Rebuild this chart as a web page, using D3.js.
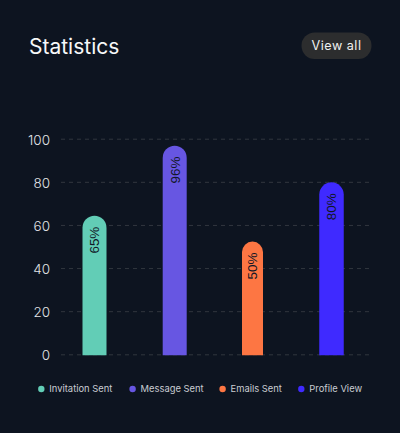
<!DOCTYPE html>
<html><head><meta charset="utf-8">
<script src="https://cdn.jsdelivr.net/npm/d3@7"></script>
<style>
html,body{margin:0;padding:0;background:#0d1420;width:400px;height:433px;overflow:hidden}
text{font-family:Inter,"Noto Sans",sans-serif}
</style></head><body><svg id="c" width="400" height="433"></svg>
<script>
const categories=["Invitation Sent","Message Sent","Emails Sent","Profile View"];
const values=[64.5,97,52.5,80];
const percentLabels=["65%","96%","50%","80%"];
const colors=["#62cdb6","#6756e2","#fd7643","#3f2aff"];
const yTicks=[0,20,40,60,80,100];
const title="Statistics", buttonLabel="View all";

const svg=d3.select("#c");
const barW=[24,24,21,24.5], centerShift=[0,1.2,0,0];
const x=d3.scaleBand().domain(categories).range([55,371]).paddingInner(0).paddingOuter(0);
const y=d3.scaleLinear().domain([0,100]).range([354.8,139.2]);

svg.append("text").attr("x",29).attr("y",54).attr("fill","#f7f8f9").attr("font-size",21).attr("font-weight",400).text(title);
svg.append("rect").attr("x",301.5).attr("y",32.5).attr("width",70).attr("height",26.5).attr("rx",13.2).attr("fill","#2c2d2e");
svg.append("text").attr("x",336.5).attr("y",50.3).attr("text-anchor","middle").attr("fill","#f0f0f0").attr("font-size",12.6).attr("letter-spacing",0.5).text(buttonLabel);

const axis=d3.axisLeft(y).tickValues(yTicks).tickSize(0).tickPadding(0);
const g=svg.append("g").attr("transform","translate(50,0)").call(axis);
g.select(".domain").remove();
g.selectAll("text").attr("fill","#e3e5e8").attr("font-size",13.5).attr("font-family","Inter,sans-serif").attr("font-weight",300).attr("dy","0.36em");
g.selectAll(".tick line").remove();

svg.append("g").selectAll("line").data(yTicks).join("line")
 .attr("x1",61).attr("x2",372).attr("y1",d=>y(d)).attr("y2",d=>y(d))
 .attr("stroke","#31363e").attr("stroke-width",1).attr("stroke-dasharray","4 4");

const bars=svg.append("g").selectAll("g").data(categories).join("g")
 .attr("transform",(d,i)=>`translate(${x(d)+x.bandwidth()/2+centerShift[i]},0)`);
bars.append("path").attr("fill",(d,i)=>colors[i]).attr("d",(d,i)=>{
  const w=barW[i], r=w/2, t=y(values[i]), b=y(0)+0.5;
  return `M${-r},${b}V${t+r}A${r},${r} 0 0 1 ${r},${t+r}V${b}Z`;
});
bars.append("text").text((d,i)=>percentLabels[i])
 .attr("transform",(d,i)=>`translate(0,${y(values[i])+11}) rotate(-90)`)
 .attr("text-anchor","end").attr("dy","0.36em").attr("fill","#111726")
 .attr("font-size",13.4).style("font-family","'Liberation Sans',Arial,sans-serif");

const leg=svg.append("g").selectAll("g").data(categories).join("g")
 .attr("transform",(d,i)=>`translate(${[41.3,132.6,222.6,301.3][i]},389)`);
leg.append("circle").attr("r",3.2).attr("fill",(d,i)=>colors[i]);
leg.append("text").attr("x",8).attr("dy","0.36em").attr("fill","#c9ccd2").attr("font-size",9.4).text(d=>d);
</script></body></html>
